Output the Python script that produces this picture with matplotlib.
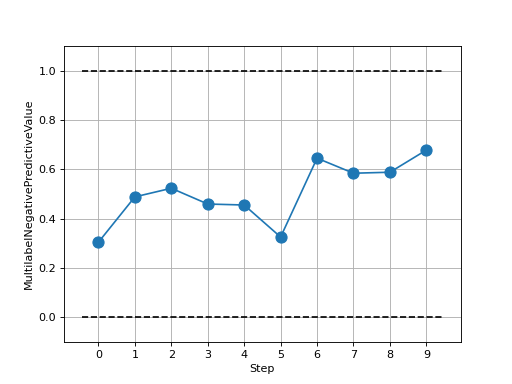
import matplotlib
matplotlib.use("Agg")
import matplotlib.pyplot as plt

steps = [0, 1, 2, 3, 4, 5, 6, 7, 8, 9]
values = [0.304, 0.488, 0.523, 0.459, 0.455, 0.325, 0.645, 0.584, 0.588, 0.678]
bounds_x = [-0.45, 9.45]
upper = [1.0, 1.0]
lower = [0.0, 0.0]

fig, ax = plt.subplots(figsize=(6.4, 4.8), dpi=80)
ax.plot(bounds_x, upper, 'k--')
ax.plot(bounds_x, lower, 'k--')
ax.plot(steps, values, marker='o', markersize=10, color='#1f77b4')
ax.set_ylim(-0.1, 1.1)
ax.set_xticks(steps)
ax.set_xlabel("Step")
ax.set_ylabel("MultilabelNegativePredictiveValue")
ax.grid(True)
fig.savefig("out.png", dpi=80)
